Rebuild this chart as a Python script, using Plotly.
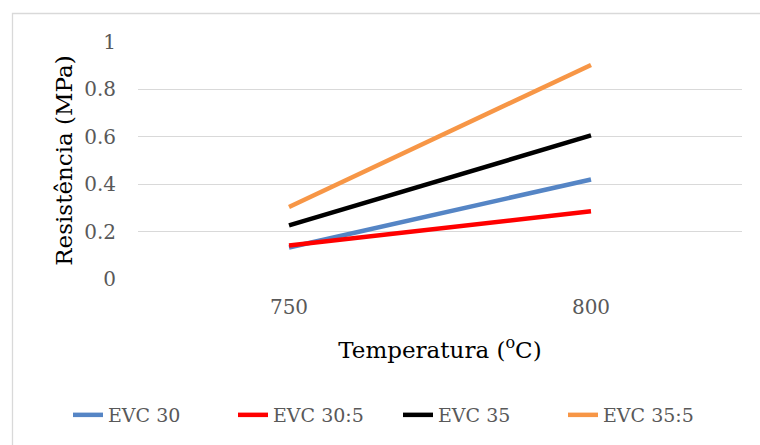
import plotly.graph_objects as go

categories = ["750", "800"]
evc30 = [0.133, 0.420]
evc30_5 = [0.141, 0.286]
evc35 = [0.226, 0.606]
evc35_5 = [0.304, 0.903]
series_names = ["EVC 30", "EVC 30:5", "EVC 35", "EVC 35:5"]
colors = ["#5585C5", "#FF0000", "#000000", "#F79646"]
y_ticks = [0, 0.2, 0.4, 0.6, 0.8, 1]
y_tick_labels = ["0", "0.2", "0.4", "0.6", "0.8", "1"]

FONT = "DejaVu Serif"
fig = go.Figure()
for name, vals, col in zip(series_names, [evc30, evc30_5, evc35, evc35_5], colors):
    fig.add_trace(go.Scatter(x=categories, y=vals, mode="lines", name=name,
                             line=dict(color=col, width=4.5)))

# plot area: x 138..742, y 42..279
L, R, T, B = 138, 18, 42, 166
pw, ph = 760 - L - R, 445 - T - B
def px(x): return (x - L) / pw
def py(y): return (445 - B - y) / ph

fig.update_layout(
    width=760, height=445,
    margin=dict(l=L, r=R, t=T, b=B, autoexpand=False),
    paper_bgcolor="white", plot_bgcolor="white",
    font=dict(family=FONT, color="#595959", size=20),
    showlegend=True,
    legend=dict(orientation="h", x=px(68), xanchor="left", y=py(415), yanchor="middle",
                font=dict(family=FONT, size=19, color="#595959"),
                entrywidth=120, entrywidthmode="pixels", tracegroupgap=0),
    xaxis=dict(type="category", range=[-0.5, 1.5], showgrid=False, zeroline=False,
               showline=False, ticks="", ticklabelstandoff=14,
               tickfont=dict(family=FONT, size=20, color="#595959"),
               title=dict(text="Temperatura (<sup>o</sup>C)",
                          font=dict(family=FONT, size=23, color="#000000"),
                          standoff=23)),
    yaxis=dict(range=[0, 1], tickvals=y_ticks, ticktext=y_tick_labels,
               showgrid=True, gridcolor="#D9D9D9", gridwidth=1.3, zeroline=False,
               showline=False, ticks="", ticklabelstandoff=21,
               tickfont=dict(family=FONT, size=20, color="#595959"),
               title=dict(text="Resistência (MPa)",
                          font=dict(family=FONT, size=23, color="#000000"),
                          standoff=5)),
    shapes=[dict(type="rect", xref="paper", yref="paper",
                 x0=px(12.5), x1=px(770), y0=py(460), y1=py(13.5),
                 line=dict(color="#D9D9D9", width=1.3), fillcolor="rgba(0,0,0,0)", layer="below")],
)
fig.write_html("out.html")
